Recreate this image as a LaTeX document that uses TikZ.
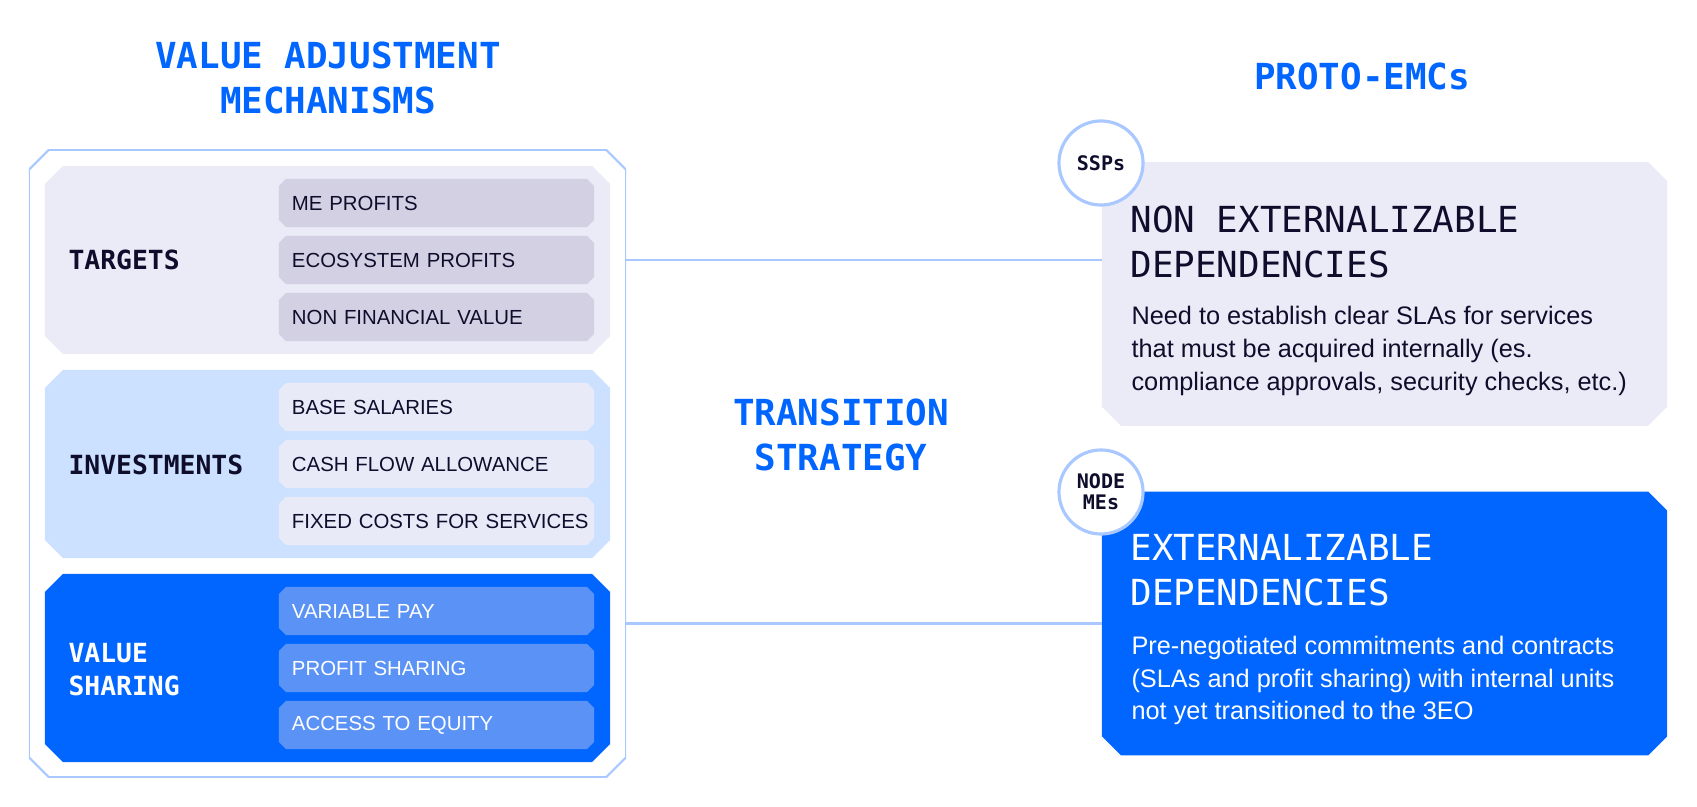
\documentclass[tikz,border=0pt]{standalone}
\usepackage{fontspec}
\setmainfont{Liberation Sans}
\setmonofont{DejaVu Sans Mono}
\usetikzlibrary{positioning,calc}
\definecolor{vamblue}{HTML}{0066FF}
\definecolor{vamline}{HTML}{A8C8FF}
\definecolor{vamlav}{HTML}{EBEBF7}
\definecolor{vamlavdk}{HTML}{D3D0E3}
\definecolor{vamsky}{HTML}{CCE0FF}
\definecolor{vamitemlt}{HTML}{E8EAF8}
\definecolor{vamitembl}{HTML}{5A92F5}
\definecolor{vamink}{HTML}{0E0E2C}
% chamfered outline inside a node: #1 path options, #2 chamfer, #3 inset
\newcommand\vamchamfer[3]{%
  \path[#1] let \p1=(path picture bounding box.south west), \p2=(path picture bounding box.north east) in
    (\x1+#2,\y2-#3) -- (\x2-#2,\y2-#3) -- (\x2-#3,\y2-#2) -- (\x2-#3,\y1+#2) --
    (\x2-#2,\y1+#3) -- (\x1+#2,\y1+#3) -- (\x1+#3,\y1+#2) -- (\x1+#3,\y2-#2) -- cycle;}
\tikzset{
  chbox/.style 2 args={rectangle,inner sep=0pt,outer sep=0pt,fill=white,fill opacity=0,text opacity=1,
    path picture={\vamchamfer{#1}{#2}{0pt}}},
  panel/.style={chbox={fill=#1,fill opacity=1}{0.18cm},minimum width=5.65cm,minimum height=1.88cm},
  depbox/.style={chbox={fill=#1,fill opacity=1}{0.19cm},minimum width=5.65cm,minimum height=2.635cm},
  item/.style={chbox={fill=#1,fill opacity=1}{0.07cm},minimum width=3.15cm,minimum height=0.48cm,
    text width=2.89cm,align=left,inner xsep=0.13cm,font=\fontsize{5.8}{7}\selectfont,text=vamink},
  seclabel/.style={anchor=west,align=left,inner sep=0pt,text=vamink,font=\ttfamily\bfseries\fontsize{7.5}{9.4}\selectfont},
  heading/.style={align=center,text=vamblue,font=\ttfamily\bfseries\fontsize{10.2}{12.8}\selectfont},
  boxtitle/.style={anchor=west,align=left,inner sep=0pt,font=\ttfamily\fontsize{10.2}{12.8}\selectfont},
  boxbody/.style={anchor=west,align=left,inner sep=0pt,font=\fontsize{7.2}{9.3}\selectfont},
  badge/.style={circle,draw=vamline,line width=0.9pt,fill=white,minimum size=0.84cm,inner sep=0pt,
    align=center,text=vamink,font=\ttfamily\bfseries\fontsize{5.7}{6}\selectfont},
  vamconn/.style={vamline,line width=0.7pt}
}
\begin{document}
\begin{tikzpicture}[x=0.01cm,y=-0.01cm]
  \useasboundingbox[fill=white] (0,0) rectangle (1697,807);
  % left column
  \node[heading] (vamhead) at (328,77.5) {VALUE ADJUSTMENT\\MECHANISMS};
  \node[chbox={draw=vamline,line width=0.6pt,fill opacity=1}{0.2cm},minimum width=5.97cm,minimum height=6.27cm] (vamframe) at (327.5,463.5) {};
  \node[panel=vamlav] (targets) at (327.5,260) {};
  \node[panel=vamsky] (invest) at (327.5,464) {};
  \node[panel=vamblue] (vsharing) at (327.5,668) {};
  \node[seclabel] at ($(targets.west)+(23,0)$) {TARGETS};
  \node[seclabel] at ($(invest.west)+(23,1)$) {INVESTMENTS};
  \node[seclabel,text=white] at ($(vsharing.west)+(23,1.5)$) {VALUE\\SHARING};
  \node[item=vamlavdk] (tgt1) at ($(targets)+(109,-57)$) {ME PROFITS};
  \node[item=vamlavdk] (tgt2) at ($(targets)+(109,0)$) {ECOSYSTEM PROFITS};
  \node[item=vamlavdk] (tgt3) at ($(targets)+(109,57)$) {NON FINANCIAL VALUE};
  \node[item=vamitemlt] (inv1) at ($(invest)+(109,-57)$) {BASE SALARIES};
  \node[item=vamitemlt] (inv2) at ($(invest)+(109,0)$) {CASH FLOW ALLOWANCE};
  \node[item=vamitemlt] (inv3) at ($(invest)+(109,57)$) {\mbox{FIXED COSTS FOR SERVICES}};
  \node[item=vamitembl,text=white] (vs1) at ($(vsharing)+(109,-57)$) {VARIABLE PAY};
  \node[item=vamitembl,text=white] (vs2) at ($(vsharing)+(109,0)$) {PROFIT SHARING};
  \node[item=vamitembl,text=white] (vs3) at ($(vsharing)+(109,57)$) {ACCESS TO EQUITY};
  % middle
  \node[heading] (transhead) at (841,435) {TRANSITION\\STRATEGY};
  % right column
  \node[heading] (protohead) at (1362,76) {PROTO-EMCs};
  \node[depbox=vamlav] (nonext) at (1384.5,294) {};
  \node[depbox=vamblue] (ext) at (1384.5,623.5) {};
  \node[boxtitle,text=vamink] at ($(nonext.west)+(28,-52.5)$) {NON EXTERNALIZABLE\\DEPENDENCIES};
  \node[boxbody,text=vamink] at ($(nonext.west)+(29,57)$) {Need to establish clear SLAs for services\\that must be acquired internally (es.\\compliance approvals, security checks, etc.)};
  \node[boxtitle,text=white] at ($(ext.west)+(28,-53)$) {EXTERNALIZABLE\\DEPENDENCIES};
  \node[boxbody,text=white] at ($(ext.west)+(29,57)$) {Pre-negotiated commitments and contracts\\(SLAs and profit sharing) with internal units\\not yet transitioned to the 3EO};
  \node[badge] (ssps) at (1101,163) {SSPs};
  \node[badge] (nodemes) at (1101,492) {NODE\\MEs};
  % connectors
  \draw[vamconn] (targets.east -| vamframe.east) -- (targets.east -| nonext.west);
  \draw[vamconn] (ext.west -| vamframe.east) -- (ext.west);
\end{tikzpicture}
\end{document}
